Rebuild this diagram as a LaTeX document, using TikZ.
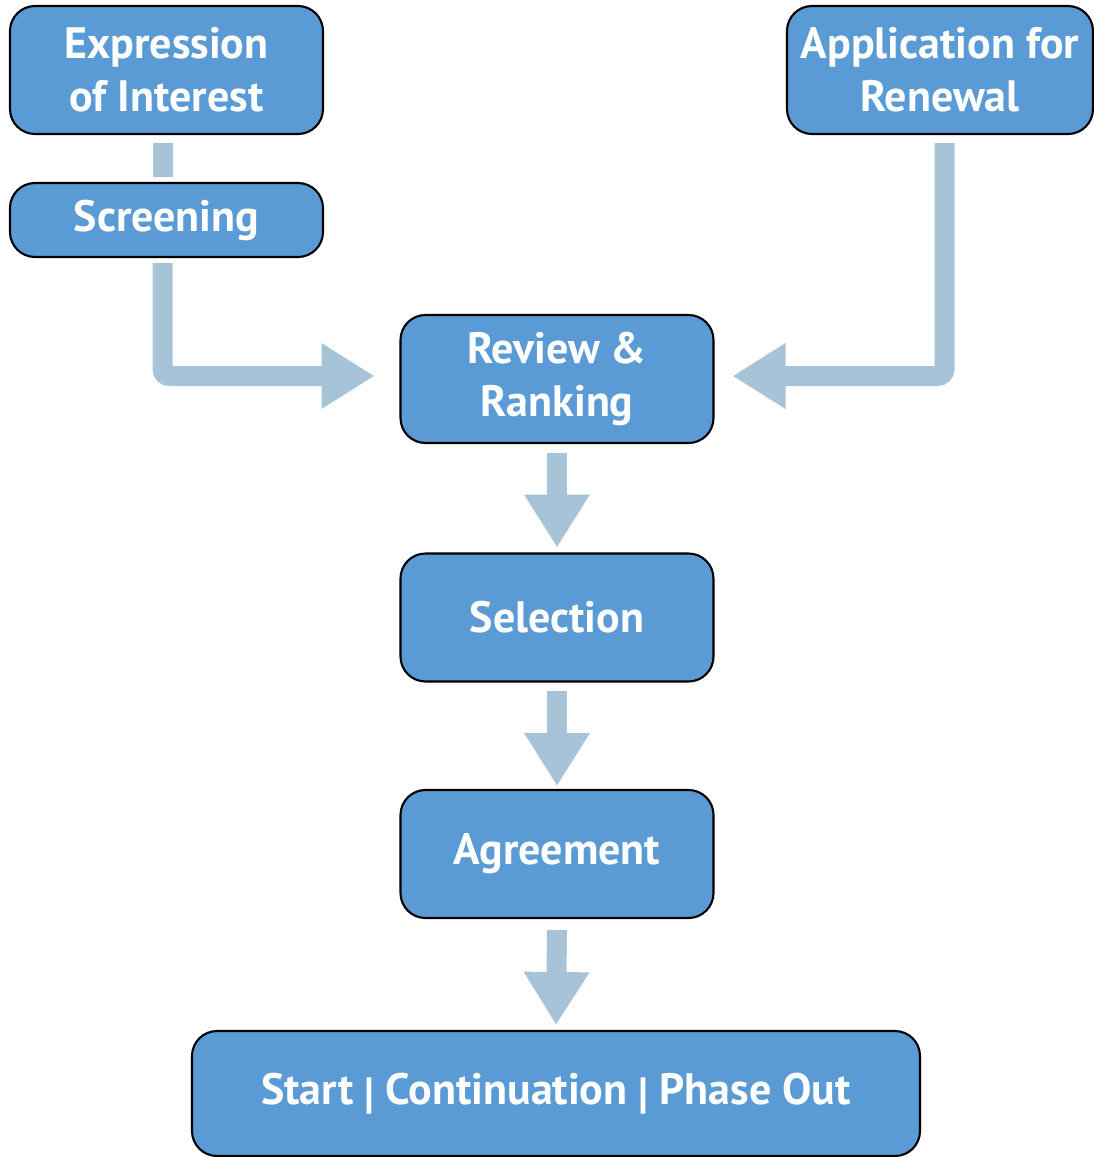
\documentclass[tikz,border=0pt]{standalone}
\usepackage{fontspec}
\setmainfont{PT Sans}
\usetikzlibrary{arrows.meta}
\definecolor{stageblue}{RGB}{91,155,213}
\definecolor{flowgrey}{RGB}{167,195,216}
\newcommand{\stageFill}{stageblue}
\newcommand{\flowColor}{flowgrey}

\begin{document}
\begin{tikzpicture}[inner sep=0in,outer sep=0in,
		stage/.style={draw=black, line width=1.2pt, fill=\stageFill, rounded corners=0.5cm,
			text=white, align=center, font=\fontsize{25}{30}\selectfont\bfseries,
			minimum width=6.26cm, minimum height=2.56cm},
		flow/.style={draw=\flowColor, line width=0.4cm, rounded corners=4pt,
			-{Triangle[length=1.06cm, width=1.24cm]}}]
	\useasboundingbox (0,0) rectangle (21.88,-23.14);
	
	\node[stage] (expr) at (3.33,-1.40) {Expression\\of Interest};
	\node[stage, minimum height=1.48cm] (screen) at (3.33,-4.40) {Screening};
	\node[stage, minimum width=6.12cm] (app) at (18.80,-1.40) {Application for\\Renewal};
	\node[stage] (review) at (11.14,-7.58) {Review \&\\Ranking};
	\node[stage] (sel) at (11.14,-12.35) {Selection};
	\node[stage] (agree) at (11.14,-17.08) {Agreement};
	\node[stage, minimum width=14.56cm, minimum height=2.5cm] (start) at (11.12,-21.87)
		{Start \raisebox{-0.08em}{|} Continuation \raisebox{-0.08em}{|} Phase Out};
	
	\draw[draw=\flowColor, line width=0.4cm] ([xshift=-0.08cm,yshift=-0.18cm]expr.south) -- ([xshift=-0.08cm,yshift=0.12cm]screen.north);
	\draw[flow] ([xshift=-0.08cm,yshift=-0.12cm]screen.south) |- ([xshift=-0.52cm,yshift=0.06cm]review.west);
	\draw[flow] ([xshift=0.09cm,yshift=-0.18cm]app.south) |- ([xshift=0.38cm,yshift=0.06cm]review.east);
	
	\draw[flow] ([yshift=-0.2cm]review.south) -- ([yshift=0.12cm]sel.north);
	\draw[flow] ([yshift=-0.18cm]sel.south) -- ([yshift=0.08cm]agree.north);
	\draw[flow] ([yshift=-0.24cm]agree.south) -- ([yshift=0.12cm]start.north);
	%\draw[thick, black, -stealth] (start.south west)--(start.south east);
\end{tikzpicture}
\end{document}
